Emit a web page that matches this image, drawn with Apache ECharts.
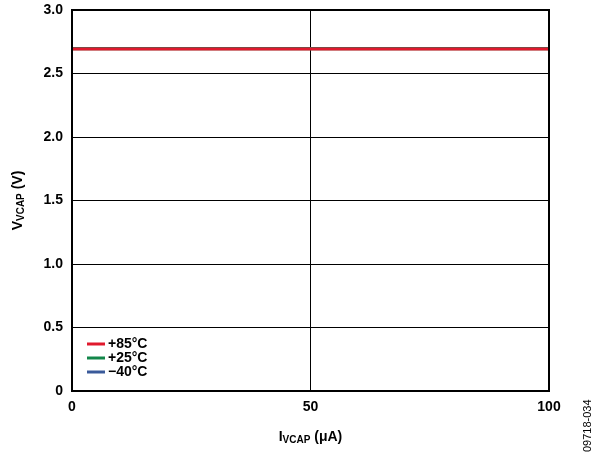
<!DOCTYPE html>
<html lang="en">
<head>
    <meta charset="utf-8">
    <title>VVCAP vs IVCAP</title>
    <script type="text/javascript" src="https://cdn.jsdelivr.net/npm/echarts@6/dist/echarts.min.js"></script>
    <style>
        html, body { margin: 0; padding: 0; background: #fff; }
        #main { width: 592px; height: 454px; }
    </style>
</head>
<body>
<div id="main"></div>
<script>
    // current (uA) and VCAP voltage
    var current = [0, 25, 50, 75, 100];
    var v85 = [2.693, 2.693, 2.693, 2.693, 2.693];
    var v25 = [2.695, 2.695, 2.695, 2.695, 2.695];
    var vm40 = [2.697, 2.697, 2.697, 2.697, 2.697];
    var xTicks = [0, 50, 100];

    function pairs(xs, ys) {
        return xs.map(function (x, i) { return [x, ys[i]]; });
    }

    var font = 'Liberation Sans, Arial, sans-serif';
    var myChart = echarts.init(document.getElementById('main'));
    var option = {
        animation: false,
        textStyle: { fontFamily: font },
        grid: { left: 72, right: 43, top: 10, bottom: 63 },
        legend: {
            left: 82, top: 332,
            orient: 'vertical',
            itemWidth: 18, itemHeight: 3, itemGap: 0,
            icon: 'rect',
            textStyle: { fontSize: 14, fontWeight: 'bold', color: '#000', fontFamily: font, lineHeight: 14, padding: [0, 0, 0, -2] },
            data: ['+85°C', '+25°C', '\u221240°C']
        },
        xAxis: {
            type: 'value', min: 0, max: 100, interval: 50,
            name: '{a|I}{b|VCAP}{a| (μA)}',
            nameLocation: 'middle', nameGap: 38,
            nameTextStyle: {
                rich: {
                    a: { fontSize: 14, fontWeight: 'bold', color: '#000', fontFamily: font },
                    b: { fontSize: 10, fontWeight: 'bold', color: '#000', fontFamily: font, padding: [6, 0, 0, 0] }
                }
            },
            axisLine: { lineStyle: { color: '#000', width: 2 } },
            axisTick: { show: false },
            axisLabel: {
                color: '#000', fontWeight: 'bold', fontSize: 14, margin: 9,
                formatter: function (v) { return xTicks.indexOf(v) >= 0 ? String(v) : ''; }
            },
            splitLine: { show: true, lineStyle: { color: '#000', width: 1 } }
        },
        yAxis: {
            type: 'value', min: 0, max: 3, interval: 0.5,
            name: '{a|V}{b|VCAP}{a| (V)}',
            nameLocation: 'middle', nameGap: 46, nameRotate: 90,
            nameTextStyle: {
                rich: {
                    a: { fontSize: 14, fontWeight: 'bold', color: '#000', fontFamily: font },
                    b: { fontSize: 10, fontWeight: 'bold', color: '#000', fontFamily: font, padding: [6, 0, 0, 0] }
                }
            },
            axisLine: { lineStyle: { color: '#000', width: 2 } },
            axisTick: { show: false },
            axisLabel: {
                color: '#000', fontWeight: 'bold', fontSize: 14, margin: 9,
                formatter: function (v) { return v === 0 ? '0' : v.toFixed(1); }
            },
            splitLine: { show: true, lineStyle: { color: '#000', width: 1 } }
        },
        graphic: [
            { type: 'rect', shape: { x: 72, y: 10, width: 477, height: 381 }, style: { fill: 'none', stroke: '#000', lineWidth: 2 }, silent: true, z: 10 },
            { type: 'text', x: 582, y: 452, rotation: Math.PI / 2, style: { text: '09718-034', fontSize: 11, fill: '#000', fontFamily: font, textAlign: 'left', textVerticalAlign: 'top' }, silent: true }
        ],
        series: [
            { name: '\u221240°C', type: 'line', data: pairs(current, vm40), showSymbol: false, lineStyle: { color: '#3a5a9a', width: 3 }, itemStyle: { color: '#3a5a9a' }, z: 3 },
            { name: '+25°C', type: 'line', data: pairs(current, v25), showSymbol: false, lineStyle: { color: '#13874a', width: 3 }, itemStyle: { color: '#13874a' }, z: 4 },
            { name: '+85°C', type: 'line', data: pairs(current, v85), showSymbol: false, lineStyle: { color: '#e0192d', width: 3 }, itemStyle: { color: '#e0192d' }, z: 5 }
        ]
    };
    myChart.setOption(option);
</script>
</body>
</html>
